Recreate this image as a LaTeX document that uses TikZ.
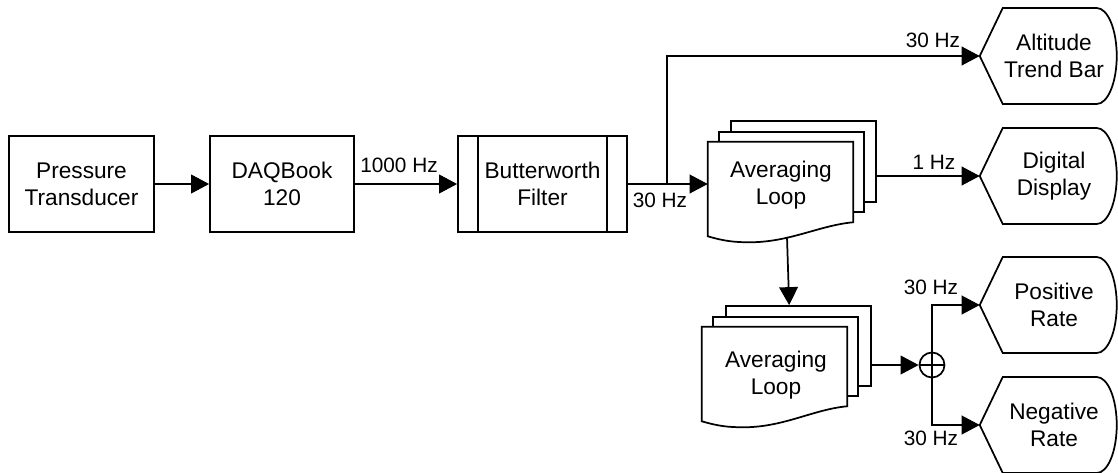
\documentclass[tikz,border=0pt]{standalone}
\usepackage{fontspec}
\setmainfont{Liberation Sans}
\usetikzlibrary{arrows.meta,calc}
\tikzset{
  ln/.style={line width=1.3pt},
  arr/.style={ln,-{Triangle[length=13.5pt,width=14pt]}},
  boxnode/.style={draw,ln,rectangle,minimum height=72pt,inner sep=0pt,align=center,font=\fontsize{17}{20}\selectfont},
  page/.style={draw,ln,fill=white,rectangle,minimum width=108.75pt,inner sep=0pt},
  txt/.style={inner sep=0pt,align=center,font=\fontsize{17}{20}\selectfont},
  dispnode/.style={minimum width=111pt,minimum height=72pt,inner sep=0pt,align=center,font=\fontsize{17}{20}\selectfont},
  lbl/.style={inner sep=0pt,font=\fontsize{15.6}{18}\selectfont},
}
\begin{document}
\begin{tikzpicture}[x=0.75pt,y=0.75pt]
\useasboundingbox (0,0) rectangle (1118,-472);

% main chain
\node[boxnode,minimum width=108.75pt] (pt) at (81.5,-184) {Pressure\\Transducer};
\node[boxnode,minimum width=108pt] (daq) at (282,-184) {DAQBook\\120};
\node[boxnode,minimum width=126.75pt] (bw) at (542.5,-184) {Butterworth\\Filter};
\draw[ln] ([xshift=15.75pt]bw.north west) -- ([xshift=15.75pt]bw.south west)
          ([xshift=-15.75pt]bw.north east) -- ([xshift=-15.75pt]bw.south east);

% upper averaging stack
\node[page,minimum height=60.75pt] (avg1c) at (803.5,-161.5) {};
\node[page,minimum height=60pt] (avg1b) at (791.5,-172) {};
\node[txt,minimum width=108.75pt,minimum height=60pt] (avg1) at (780.5,-182) {};
\draw[ln,fill=white] (avg1.south east) -- (avg1.north east) -- (avg1.north west)
  -- ($(avg1.south west)+(0,-14)$)
  .. controls ($(avg1.south west)+(17,-19)$) and ($(avg1.south west)+(27,-20)$) .. ($(avg1.south west)+(42,-20)$)
  .. controls ($(avg1.south west)+(82,-20)$) and ($(avg1.south west)+(112,-3)$) .. (avg1.south east) -- cycle;
\node[txt] (avg1t) at (781,-185) {Averaging\\Loop};

% lower averaging stack
\node[page,minimum height=60pt] (avg2c) at (798.5,-346) {};
\node[page,minimum height=59.25pt] (avg2b) at (785.5,-356.5) {};
\node[txt,minimum width=108.75pt,minimum height=59.25pt] (avg2) at (774.5,-366.5) {};
\draw[ln,fill=white] (avg2.south east) -- (avg2.north east) -- (avg2.north west)
  -- ($(avg2.south west)+(0,-15)$)
  .. controls ($(avg2.south west)+(17,-20)$) and ($(avg2.south west)+(27,-21)$) .. ($(avg2.south west)+(42,-21)$)
  .. controls ($(avg2.south west)+(82,-21)$) and ($(avg2.south west)+(112,-3)$) .. (avg2.south east) -- cycle;
\node[txt] (avg2t) at (776,-375) {Averaging\\Loop};

% summing junction
\node[draw,ln,circle,minimum size=18.75pt,inner sep=0pt] (sum) at (932,-365) {};
\draw[ln] (sum.north) -- (sum.south) (sum.west) -- (sum.east);

% display shapes
\foreach \n/\y/\t in {alt/56/{Altitude\\Trend Bar}, disp/176/{Digital\\Display}, pos/305/{Positive\\Rate}, neg/425/{Negative\\Rate}}{
  \node[dispnode] (\n) at (1054,-\y) {\t};
  \draw[ln] (\n.west) -- ++(23,48) -- ++(94,0)
     arc[start angle=90,end angle=-90,x radius=15pt,y radius=36pt]
     -- ++(-94,0) -- cycle;
}

% connectors
\draw[arr] (pt.east) -- (daq.west);
\draw[arr] (daq.east) -- (bw.west);
\draw[arr] (bw.east) -- (bw.east -| avg1.west);
\coordinate (br) at (667,-184);
\draw[arr] (br) |- (alt.west);
\draw[arr] (disp.west -| avg1c.east) -- (disp.west);
\draw[arr] ([shift={(6.5,-55)}]avg1.center) -- ([xshift=6.5]avg1.center |- avg2c.north);
\draw[arr] (sum.west -| avg2c.east) -- (sum.west);
\draw[arr] (sum.north) |- (pos.west);
\draw[arr] (sum.south) |- (neg.west);

% labels
\node[lbl] (l1) at (399,-165) {1000 Hz};
\node[lbl] (l2) at (660,-200) {30 Hz};
\node[lbl] (l3) at (933,-40) {30 Hz};
\node[lbl] (l4) at (934,-162) {1 Hz};
\node[lbl] (l5) at (931,-287) {30 Hz};
\node[lbl] (l6) at (931,-438) {30 Hz};
\end{tikzpicture}
\end{document}
